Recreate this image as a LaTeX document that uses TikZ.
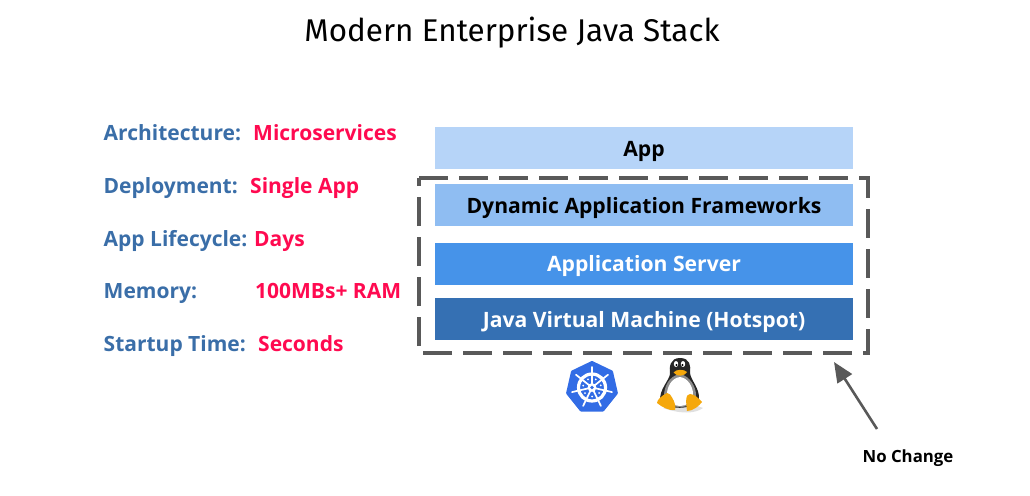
\documentclass[tikz,border=0pt]{standalone}
\usepackage{fontspec}
\setmainfont{Open Sans}
\newfontfamily\titlef{Fira Sans}
\usetikzlibrary{arrows.meta}
\definecolor{lblue}{HTML}{3A6EA8}
\definecolor{lred}{HTML}{FF0A50}
\definecolor{dgray}{HTML}{595959}
\definecolor{cApp}{HTML}{B6D4F8}
\definecolor{cDyn}{HTML}{8FBDF2}
\definecolor{cSrv}{HTML}{4693E9}
\definecolor{cJvm}{HTML}{3570B3}
\definecolor{kblue}{HTML}{326CE5}
\definecolor{tuxy}{HTML}{F5A80C}
\tikzset{
  lab/.style={anchor=base west,inner sep=0pt,font=\fontsize{21}{24}\bfseries,text=lblue},
  val/.style={anchor=base west,inner sep=0pt,font=\fontsize{21}{24}\bfseries,text=lred},
  layer/.style={minimum width=418pt,minimum height=41.5pt,inner sep=0pt,anchor=north west},
  ltext/.style={anchor=base,inner sep=0pt,font=\fontsize{21.15}{24}\bfseries},
}
\begin{document}
\begin{tikzpicture}[x=1pt,y=-1pt]
\useasboundingbox (0,0) rectangle (1030,495);
\node[anchor=base,inner sep=0pt,font=\fontsize{31.4}{34}\titlef] (title) at (512,42) {Modern Enterprise Java Stack};
% left labels
\node[lab] (l1) at (103.5,140) {Architecture:};
\node[val] (v1) at (253,140) {Microservices};
\node[lab] (l2) at (103.5,193) {Deployment:};
\node[val] (v2) at (250,193) {Single App};
\node[lab] (l3) at (103.5,246) {App Lifecycle:};
\node[val] (v3) at (254,246) {Days};
\node[lab] (l4) at (103.5,298.5) {Memory:};
\node[val] (v4) at (255,298.5) {100MBs+ RAM};
\node[lab] (l5) at (103.5,351.5) {Startup Time:};
\node[val] (v5) at (258,351.5) {Seconds};
% layers
\node[layer,fill=cApp] (app) at (435,127) {};
\node[layer,fill=cDyn] (dyn) at (435,184) {};
\node[layer,fill=cSrv] (srv) at (435,243) {};
\node[layer,fill=cJvm] (jvm) at (435,298) {};
\node[ltext,text=black] (appt) at (644,156) {App};
\node[ltext,text=black] (dynt) at (644,213) {Dynamic Application Frameworks};
\node[ltext,text=white] (srvt) at (644,271) {Application Server};
\node[ltext,text=white] (jvmt) at (644,327) {Java Virtual Machine (Hotspot)};
% dashed frame
\draw[dgray,line width=4pt,dash pattern=on 29pt off 11pt,line join=miter] (419,178) -- (868,178) -- (868,353) -- (419,353) -- cycle;
% arrow
\coordinate (atail) at (877,429);
\coordinate (atip) at (834,362);
\draw[dgray,line width=2.6pt,-{Triangle[length=20pt,width=17pt]}] (atail) -- (atip);
\node[anchor=base,inner sep=0pt,font=\fontsize{16.8}{20}\bfseries] (nc) at (908,462) {No Change};
% kubernetes
\begin{scope}[shift={(592,387.5)}]
  \fill[kblue,draw=kblue,line width=3pt,line join=round]
    (90:-25) -- (141.4:-25) -- (192.9:-25) -- (244.3:-25) -- (295.7:-25) -- (347.1:-25) -- (38.6:-25) -- cycle;
  \draw[white,line width=3.2pt] (0,0) circle (13.5);
  \foreach \a in {90,141.4,192.9,244.3,295.7,347.1,38.6}{
    \draw[white,line width=1.7pt,line cap=round] (\a:-3) -- (\a:-20.5);
    \fill[white] (\a+25:-9) circle (1);
  }
  \fill[white] (0,0) circle (4.4);
  \fill[kblue] (0,0) circle (1.9);
\end{scope}
% tux
\begin{scope}
  \fill[black!12] (663,408) .. controls (680,414) and (695,414) .. (703,408) -- (690,403) -- cycle;
  \fill[black!85] (680,358) .. controls (670,358) and (669,367) .. (670,374) .. controls (669,381) and (659,389) .. (660,402) .. controls (668,410) and (693,410) .. (699,400) .. controls (700,388) and (691,381) .. (690,373) .. controls (691,366) and (690,358) .. (680,358) -- cycle;
  \fill[black!45] (680,374) .. controls (668,376) and (664,388) .. (664,396) .. controls (664,404) and (673,407) .. (680,407) .. controls (688,407) and (696,403) .. (696,395) .. controls (696,387) and (690,376) .. (680,374) -- cycle;
  \fill[white] (680,377) .. controls (671,378) and (667,388) .. (667,394) .. controls (667,403) and (675,406) .. (680,406) .. controls (686,406) and (693,402) .. (693,394) .. controls (693,387) and (688,378) .. (680,377) -- cycle;
  \fill[white] (676,364) ellipse (2.2 and 3);
  \fill[white] (683,364) ellipse (2.2 and 3);
  \fill[black] (676.5,365) circle (1.1);
  \fill[black] (682.5,365) circle (1.1);
  \fill[tuxy] (673.5,372.5) .. controls (676,369) and (684,369) .. (687,372) .. controls (685,376) and (677,377.5) .. (673.5,372.5) -- cycle;
  \fill[tuxy] (667,393) .. controls (661,396) and (657,400) .. (657,403) .. controls (662,407) and (669,411) .. (675,410) .. controls (676,407) and (675,402) .. (672,397.5) .. controls (671,395) and (669,393) .. (667,393) -- cycle;
  \fill[tuxy] (690,394) .. controls (685,394) and (686,403) .. (687,411) .. controls (693,411) and (699,406) .. (702,402) .. controls (699,399) and (695,394) .. (690,394) -- cycle;
\end{scope}
\end{tikzpicture}
\end{document}
